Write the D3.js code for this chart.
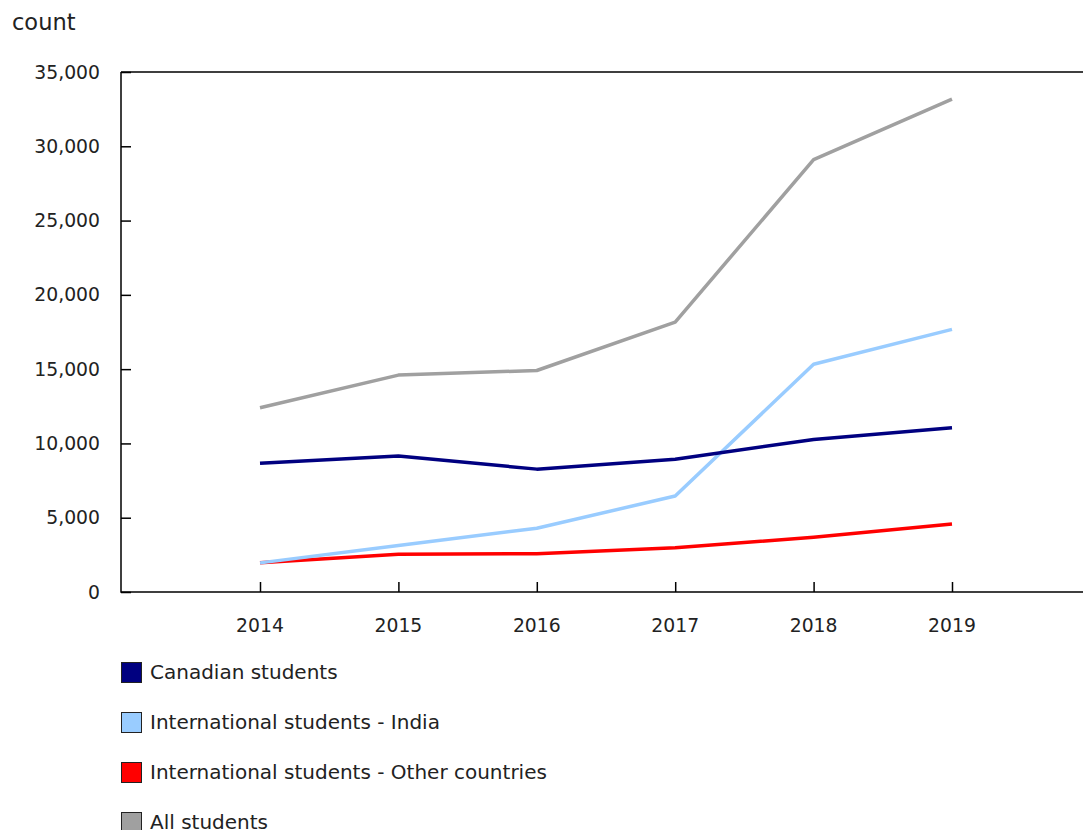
<!DOCTYPE html>
<html><head><meta charset="utf-8">
<script src="https://cdn.jsdelivr.net/npm/d3@7"></script>
<style>body{margin:0;background:#fff}svg{display:block;font-family:"DejaVu Sans",Verdana,sans-serif}</style>
</head><body>
<svg id="c" width="1083" height="830"></svg>
<script>
const years = [2014, 2015, 2016, 2017, 2018, 2019];
const canadian = [8660, 9150, 8270, 8930, 10270, 11060];
const india = [1960, 3130, 4290, 6460, 15330, 17680];
const other = [1970, 2540, 2580, 2980, 3680, 4580];
const all = [12400, 14600, 14910, 18170, 29100, 33180];
const yTicks = [0, 5000, 10000, 15000, 20000, 25000, 30000, 35000];
const seriesNames = ["Canadian students", "International students - India", "International students - Other countries", "All students"];
const seriesColors = ["#000080", "#99ccff", "#ff0000", "#a0a0a0"];
const seriesValues = [canadian, india, other, all];

const svg = d3.select("#c");
const L = 121, R = 1083, T = 72, B = 592;
const x = d3.scaleLinear().domain([2014, 2019]).range([260, 952]);
const y = d3.scaleLinear().domain([0, 35000]).range([B, T]);
const fmt = d3.format(",");

svg.append("text").attr("x", 12).attr("y", 30).attr("font-size", 22.5).attr("fill", "#222").text("count");

// y axis
const ya = svg.append("g").attr("transform", `translate(${L},0)`)
  .call(d3.axisRight(y).tickValues(yTicks).tickSize(10).tickFormat(""));
ya.select(".domain").remove();
ya.selectAll("line").attr("stroke", "#000").attr("stroke-width", 1.5);
svg.append("g").selectAll("text").data(yTicks).join("text")
  .attr("x", 100).attr("y", d => y(d)).attr("dy", "0.35em")
  .attr("text-anchor", "end").attr("font-size", 18.8).attr("fill", "#222").text(d => fmt(d));

// x axis ticks
const xa = svg.append("g").attr("transform", `translate(0,${B})`)
  .call(d3.axisTop(x).tickValues(years).tickSize(10).tickFormat(""));
xa.select(".domain").remove();
xa.selectAll("line").attr("stroke", "#000").attr("stroke-width", 1.5);
svg.append("g").selectAll("text").data(years).join("text")
  .attr("x", d => x(d)).attr("y", 625).attr("dy", "0.35em")
  .attr("text-anchor", "middle").attr("font-size", 18.8).attr("fill", "#222").text(d => d);

// frame lines
svg.append("path").attr("d", `M${L},${T}H${R}M${L},${T}V${B}H${R}`)
  .attr("fill", "none").attr("stroke", "#000").attr("stroke-width", 1.5);

const line = d3.line().x((d, i) => x(years[i])).y(d => y(d));
[2, 1, 0, 3].forEach(k => {
  svg.append("path").datum(seriesValues[k]).attr("d", line)
    .attr("fill", "none").attr("stroke", seriesColors[k]).attr("stroke-width", 3.5)
    .attr("stroke-linejoin", "round");
});

// legend
const lg = svg.append("g").selectAll("g").data(seriesNames).join("g")
  .attr("transform", (d, i) => `translate(121,${662 + i * 50})`);
lg.append("rect").attr("x", 0.5).attr("y", 0.5).attr("width", 20).attr("height", 20)
  .attr("fill", (d, i) => seriesColors[i]).attr("stroke", "#222").attr("stroke-width", 1);
lg.append("text").attr("x", 29).attr("y", 10).attr("dy", "0.35em")
  .attr("font-size", 20).attr("fill", "#222").text(d => d);
</script>
</body></html>
